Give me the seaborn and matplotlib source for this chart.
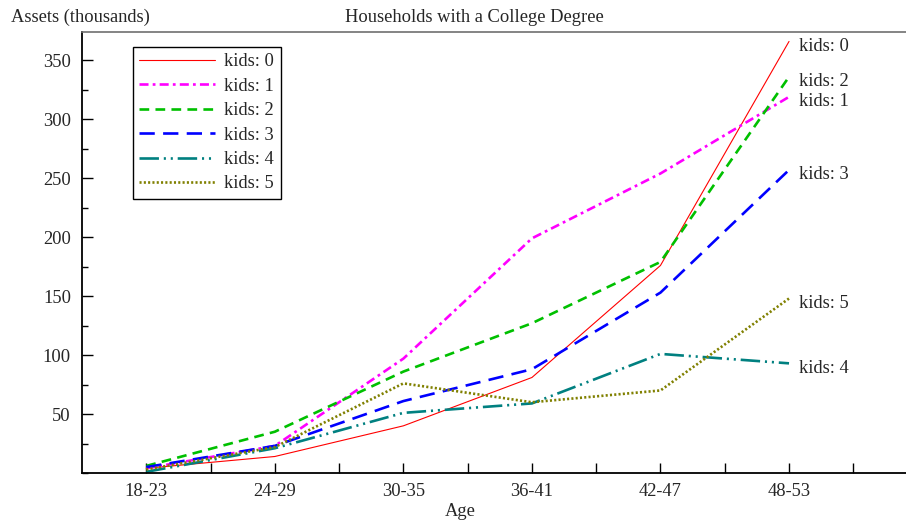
import numpy as np
import pandas as pd
import seaborn as sns
import matplotlib
matplotlib.use("Agg")
import matplotlib.pyplot as plt
from matplotlib.ticker import MultipleLocator

ages = ["18-23", "24-29", "30-35", "36-41", "42-47", "48-53"]
kids0 = [4, 14, 40, 81, 176, 366]
kids1 = [4, 23, 97, 199, 254, 319]
kids2 = [6, 35, 86, 127, 179, 336]
kids3 = [5, 23, 61, 88, 153, 257]
kids4 = [1, 21, 51, 59, 101, 93]
kids5 = [3, 22, 76, 60, 70, 148]
labels = ["kids: 0", "kids: 1", "kids: 2", "kids: 3", "kids: 4", "kids: 5"]

sns.set_style("ticks")
plt.rcParams["font.family"] = ["Liberation Serif", "DejaVu Serif"]
plt.rcParams["lines.scale_dashes"] = False

colors = ["#ff0000", "#ff00ff", "#00c000", "#0000ff", "#008080", "#808000"]
styles = ["-", (0, (6.5, 3, 2, 3)), (0, (7, 4.5)), (0, (11, 6)),
          (0, (14, 3.5, 1.5, 3.5, 1.5, 3.5)), (0, (1.5, 1.6))]
widths = [0.8, 1.9, 1.9, 1.9, 1.9, 1.9]
fs = 13.3

x = np.arange(len(ages))
fig = plt.figure(figsize=(9.06, 5.25), dpi=100)
ax = fig.add_axes([82/906, 52/525, 824/906, 441/525])

series = [kids0, kids1, kids2, kids3, kids4, kids5]
for vals, lab, c, ls, lw in zip(series, labels, colors, styles, widths):
    df = pd.DataFrame({"x": x, "y": vals})
    sns.lineplot(data=df, x="x", y="y", ax=ax, color=c, linestyle=ls,
                 linewidth=lw, label=lab)
    ax.annotate(lab, (x[-1], vals[-1]), xytext=(7, -3.5), textcoords="offset points",
                va="center", ha="left", fontsize=fs)

ax.set_xlim(-0.5, 5.91)
ax.set_ylim(0, 374)
ax.set_xticks(x)
ax.set_xticklabels(ages)
ax.set_xticks(np.arange(-0.5, 6, 1.0)[1:], minor=True)
ax.yaxis.set_major_locator(MultipleLocator(50))
ax.yaxis.set_minor_locator(MultipleLocator(25))
ax.set_yticks([50, 100, 150, 200, 250, 300, 350])
ax.tick_params(axis="both", which="both", direction="in", labelsize=fs, width=1, color="black")
ax.tick_params(axis="y", which="major", length=8, pad=8)
ax.tick_params(axis="y", which="minor", length=4)
ax.tick_params(axis="x", which="both", length=7, pad=7)
ax.set_xlabel("")
ax.set_ylabel("")

for s in ["left", "bottom"]:
    ax.spines[s].set_color("black")
    ax.spines[s].set_linewidth(1.3)
ax.spines["top"].set_color("#707070")
ax.spines["top"].set_linewidth(1.2)
ax.spines["right"].set_visible(False)

leg = ax.legend(loc="upper left", bbox_to_anchor=(51/824, 1 - 15/441), fontsize=fs,
                frameon=True, fancybox=False, handlelength=4.1, handletextpad=0.5,
                labelspacing=0.4, borderpad=0.35, borderaxespad=0)
leg.get_frame().set_edgecolor("black")
leg.get_frame().set_linewidth(1.0)
leg.get_frame().set_alpha(1)

fig.text(11/906, 1 - 17/525, "Assets (thousands)", ha="left", va="center", fontsize=fs)
fig.text(474/906, 1 - 17/525, "Households with a College Degree", ha="center", va="center", fontsize=fs)
fig.text(460/906, 1 - 512/525, "Age", ha="center", va="center", fontsize=fs)

fig.savefig("out.png", dpi=100)
